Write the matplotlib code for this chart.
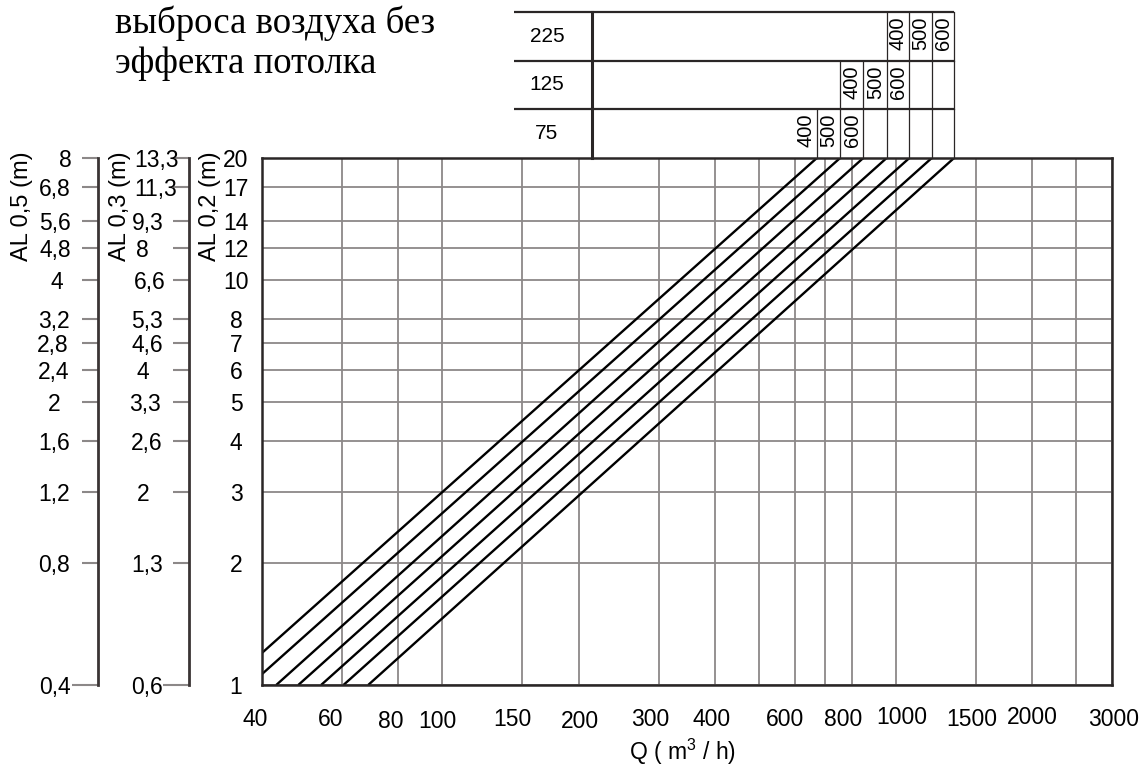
import numpy as np
import matplotlib
matplotlib.use("Agg")
import matplotlib.pyplot as plt
from matplotlib.ticker import FixedLocator, NullLocator, NullFormatter
from matplotlib.transforms import blended_transform_factory, ScaledTranslation

plt.rcParams['font.family'] = ['Liberation Sans', 'DejaVu Sans']
plt.rcParams['mathtext.fontset'] = 'custom'
plt.rcParams['mathtext.rm'] = 'Liberation Sans'

# ---------------- data ----------------
title_lines = ["выброса воздуха без", "эффекта потолка"]
q_ticks = [40, 60, 80, 100, 150, 200, 300, 400, 600, 800, 1000, 1500, 2000, 3000]
q_tick_labels = [str(v) for v in q_ticks]
q_extra_grid = [500, 700, 2500]
al02_ticks = [1, 2, 3, 4, 5, 6, 7, 8, 10, 12, 14, 17, 20]
al02_labels = [str(v) for v in al02_ticks]
al03_labels = ['0,6', '1,3', '2', '2,6', '3,3', '4', '4,6', '5,3', '6,6', '8', '9,3', '11,3', '13,3']
al05_labels = ['0,4', '0,8', '1,2', '1,6', '2', '2,4', '2,8', '3,2', '4', '4,8', '5,6', '6,8', '8']

line_q_start = [40, 40, 43.0, 48.1, 54.0, 60.5, 68.6]
line_y_start = [1.20, 1.064, 1, 1, 1, 1, 1]
line_q_end = [670, 754, 848, 955, 1072, 1201, 1345]
line_y_end = [20, 20, 20, 20, 20, 20, 20]

table_rows = ['75', '125', '225']
nozzle_labels = ['400', '500', '600']
row_label_lines = [[0, 1, 2], [2, 3, 4], [4, 5, 6]]
row_first_divider = [0, 1, 3]

# label nudges (pixels) to mimic the original drawing
x_label_dx = [-7, -11, -8, -5, -10, 1, -8, -4, -10, -9, 6, -4, 0, 2]
x_label_dy = [0, 0, -3, -3, 0, -2, 0, 0, -1, -1, 1, 0, 2, 0]
al03_label_dx = [0, 0, -4, 0, -2, -4, 0, 0, 3, -5, 1, 9, 9]
al05_label_dx = [1, 0, 0, 0, 0, 0, -1, 0, 3, 1, 1, 1, 11]

# ---------------- figure ----------------
W, H = 1140, 766
fig = plt.figure(figsize=(W / 100, H / 100), dpi=100)

left_px, right_px, top_px, bot_px = 262, 1112, 158, 685
ax_rect = [left_px / W, 1 - bot_px / H, (right_px - left_px) / W, (bot_px - top_px) / H]
ax = fig.add_axes(ax_rect)
ax.set_xscale('log')
ax.set_yscale('log')
ax.set_xlim(40, 3000)
ax.set_ylim(1, 20)

TICK_FS = 16.5
grid_col = '#8c8888'
frame_col = '#2a2626'
ax.xaxis.set_major_locator(FixedLocator(q_ticks))
ax.xaxis.set_major_formatter(NullFormatter())
ax.xaxis.set_minor_locator(FixedLocator(q_extra_grid))
ax.xaxis.set_minor_formatter(NullFormatter())
ax.yaxis.set_major_locator(FixedLocator(al02_ticks))
ax.yaxis.set_minor_locator(NullLocator())
ax.set_yticklabels(al02_labels, ha='center')
ax.tick_params(axis='both', which='both', length=0)
ax.tick_params(axis='y', labelsize=TICK_FS, pad=18.7)
ax.grid(True, which='both', axis='x', color=grid_col, lw=1.3)
ax.grid(True, which='major', axis='y', color=grid_col, lw=1.3)
for s in ax.spines.values():
    s.set_color(frame_col)
    s.set_linewidth(1.8)
    s.set_zorder(5)

# diagonal lines
for qs, ys, qe, ye in zip(line_q_start, line_y_start, line_q_end, line_y_end):
    ax.plot([qs, qe], [ys, ye], color='black', lw=1.7, zorder=4, solid_capstyle='butt')

# x tick labels
xtrans = blended_transform_factory(ax.transData, ax.transAxes)
for v, lab, dx, dy in zip(q_ticks, q_tick_labels, x_label_dx, x_label_dy):
    t = xtrans + ScaledTranslation(dx / 100, (-34 + dy) / 100, fig.dpi_scale_trans)
    ax.text(v, 0, lab, transform=t, ha='center', va='center', fontsize=TICK_FS, clip_on=False)

fig.text(682 / W, 1 - 752 / H, r'Q ( m$^{\mathregular{3}}$ / h)', ha='center', va='center',
         fontsize=TICK_FS)

# extra scales
def extra_axis(x_px, labels, pad_pt, nudges):
    a = fig.add_axes([x_px / W, ax_rect[1], 0.0005, ax_rect[3]])
    a.set_yscale('log')
    a.set_ylim(1, 20)
    a.patch.set_visible(False)
    for k in ['right', 'top', 'bottom']:
        a.spines[k].set_visible(False)
    a.spines['left'].set_color('#3a3434')
    a.spines['left'].set_linewidth(2)
    a.set_xticks([])
    a.yaxis.set_major_locator(FixedLocator(al02_ticks))
    a.yaxis.set_minor_locator(NullLocator())
    a.set_yticklabels(labels, ha='center')
    a.tick_params(axis='y', length=11.5, width=1.5, color='#8c8888', labelsize=TICK_FS, pad=pad_pt)
    ticks = a.yaxis.get_major_ticks()
    ticks[0].tick1line.set_markersize(19)
    for tk, dx in zip(ticks, nudges):
        lbl = tk.label1
        lbl.set_transform(lbl.get_transform() + ScaledTranslation(dx / 100, 0, fig.dpi_scale_trans))
    return a

extra_axis(189, al03_labels, 18.7, al03_label_dx)
extra_axis(98, al05_labels, 20.2, al05_label_dx)

# axis titles
for x_px, txt in [(22, 'AL 0,5 (m)'), (120, 'AL 0,3 (m)'), (210, 'AL 0,2 (m)')]:
    fig.text(x_px / W, 1 - 151 / H, txt, rotation=90, ha='center', va='top', fontsize=17)

# title (serif)
fig.text(115 / W, 1 - 33 / H, title_lines[0], family=['Liberation Serif', 'DejaVu Serif'],
         fontsize=26.5, ha='left', va='baseline')
fig.text(115 / W, 1 - 73 / H, title_lines[1], family=['Liberation Serif', 'DejaVu Serif'],
         fontsize=26.5, ha='left', va='baseline')

# ---------------- table above the plot ----------------
ax_h = bot_px - top_px
ax_w = right_px - left_px
row_edges = [1.0, 1 + (top_px - 109) / ax_h, 1 + (top_px - 61) / ax_h, 1 + (top_px - 12) / ax_h]
tab_left = (514 - left_px) / ax_w
tab_div = (592 - left_px) / ax_w
tab_label_x = (547 - left_px) / ax_w
logspan = np.log10(3000 / 40)
tab_right = np.log10(line_q_end[-1] / 40) / logspan

for yv in row_edges[1:]:
    ax.plot([tab_left, tab_right], [yv, yv], transform=ax.transAxes, color=frame_col,
            lw=1.6, clip_on=False, solid_capstyle='butt')
ax.plot([tab_div, tab_div], [row_edges[0], row_edges[-1]], transform=ax.transAxes,
        color=frame_col, lw=2.2, clip_on=False)

for r, name in enumerate(table_rows):
    y0, y1 = row_edges[r], row_edges[r + 1]
    for i in range(row_first_divider[r], len(line_q_end)):
        ax.plot([line_q_end[i], line_q_end[i]], [y0, y1], transform=xtrans,
                color=frame_col, lw=0.9, clip_on=False)
    ax.text(tab_label_x, (y0 + y1) / 2, name, transform=ax.transAxes,
            ha='center', va='center', fontsize=15, clip_on=False)
    for lab, li in zip(nozzle_labels, row_label_lines[r]):
        t = xtrans + ScaledTranslation(-11 / 100, -5 / 100, fig.dpi_scale_trans)
        ax.text(line_q_end[li], y1, lab, transform=t, rotation=90, ha='center', va='top',
                fontsize=14.5, clip_on=False)

fig.savefig('out.png', dpi=100)
